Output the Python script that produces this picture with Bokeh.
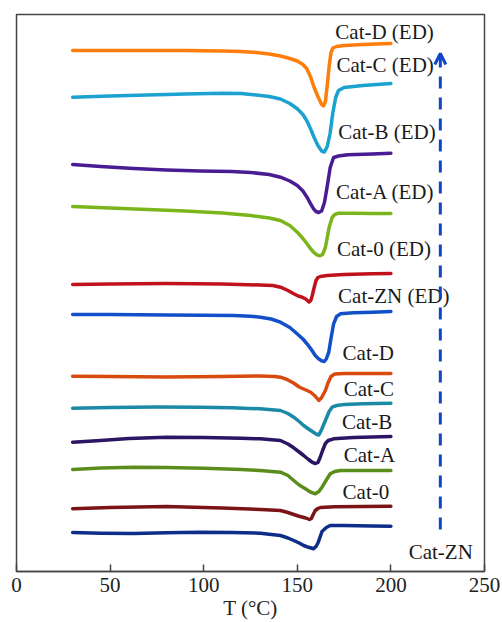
from bokeh.plotting import figure
from bokeh.models import Range1d, FixedTicker, Arrow, OpenHead, ColumnDataSource
from bokeh.core.properties import value
from bokeh.embed import file_html
from bokeh.resources import INLINE

# ---------------- data (T in °C, heat flow in offset arbitrary units) ----------------
t_d_ed = [30, 50, 70, 90, 110, 120, 128, 135, 141, 146, 150, 153, 155, 157, 159, 161, 163, 164, 165, 166, 167, 168, 169, 171, 175, 185, 200]
h_d_ed = [521, 521, 521, 521, 520.5, 520, 519, 517.5, 515.5, 513, 510.5, 507, 503, 495, 484, 475, 467, 465.5, 470, 486, 505, 519, 523.5, 525, 526, 527, 528]

t_c_ed = [30, 50, 70, 90, 110, 120, 128, 135, 141, 146, 150, 153, 155, 157, 159, 161, 163, 164.5, 166, 167.5, 169, 170.5, 172, 175, 185, 200]
h_c_ed = [474.3, 475.5, 476.5, 477.5, 478.2, 478, 476.5, 475, 472.5, 468, 462.7, 457, 451, 443, 434, 426, 420.5, 419.5, 425, 438, 459, 474, 481, 484, 486, 488]

t_b_ed = [30, 45, 62.6, 80, 98, 115, 125, 135, 141, 146, 150, 153, 155.2, 157, 158.7, 160, 161.4, 163, 164.5, 165.9, 167.6, 169.4, 172, 177, 190, 200]
h_b_ed = [407, 405, 403, 401.5, 400.5, 400, 399, 397, 394.3, 390.5, 386, 380.5, 374.3, 368, 362.7, 360, 359, 360.5, 369, 384.3, 404.3, 414, 415.5, 416.7, 417.5, 418.3]

t_a_ed = [30, 50, 70, 90, 110, 125, 135, 141, 146, 150, 153, 155.2, 157, 158.7, 160.5, 162, 163.5, 165, 165.9, 167, 168.6, 170, 172, 180, 190, 200]
h_a_ed = [365, 363.5, 362, 360.5, 358.5, 356, 353.5, 351, 346, 339.3, 333, 327.7, 323, 319.3, 316.7, 315.7, 317, 324, 333, 344, 354, 357, 358.3, 358.3, 358, 358]

t_0_ed = [30, 50, 80, 110, 130, 137, 141, 145, 148.1, 150.5, 152.5, 154.5, 156.3, 157.2, 158, 159, 160, 161, 162.3, 166, 175, 190, 200]
h_0_ed = [287, 287.5, 288, 287.5, 286.5, 286, 284.3, 281, 277.7, 275.5, 274.3, 272.5, 269.5, 271, 276, 284, 291, 294, 295, 296, 297, 297.7, 298]

t_zn_ed = [30, 50, 80, 100, 116, 125, 130.3, 136, 141, 146, 149.9, 153, 155.2, 157.5, 159.6, 161.5, 163, 164.4, 165.5, 166.8, 168, 169.4, 171, 173, 180, 190, 200]
h_zn_ed = [257, 257, 256.5, 256.2, 256, 255.2, 254.3, 252.5, 249.3, 244, 237.7, 232.5, 227.7, 222, 216, 212.5, 210.7, 210, 212.5, 219.3, 233, 247.7, 255, 257.7, 258.7, 259.3, 260]

t_d = [30, 50, 80, 110, 130, 138, 141, 144.5, 148, 151, 154, 157, 159.5, 161.5, 163, 165, 166.5, 168, 170, 175, 190, 200]
h_d = [195.3, 195, 194.5, 195, 195.5, 195, 194.3, 192, 188.5, 184.5, 182, 179.5, 175.5, 171, 174, 181, 189, 195, 197.5, 198, 198, 198]

t_c = [30, 50, 75, 98, 115, 130, 141, 145, 148.1, 151, 153.4, 156, 158, 160, 161.5, 163, 165, 167, 168.6, 171, 175, 185, 200]
h_c = [163.3, 164, 164.5, 164.3, 163.7, 162.7, 161, 158, 154.3, 150, 146, 142.5, 140, 137.5, 136.5, 142, 151, 160, 164.3, 166, 167, 167.7, 168.3]

t_b = [30, 45, 60, 80, 100, 120, 130.3, 141, 145, 148.1, 151, 153.4, 156, 158.2, 159.8, 161, 162.2, 163.5, 165, 166.5, 169.4, 180, 200]
h_b = [129.3, 131, 133, 134.3, 134, 133.2, 132.7, 131, 127.5, 123.7, 119.5, 116, 112, 109, 108, 109, 114, 121, 128, 131, 132.7, 134, 135]

t_a = [30, 45, 62.6, 80, 100, 120, 130.3, 141, 145, 148.1, 151, 154.3, 157, 159.6, 161.5, 163.2, 165.5, 167.6, 170, 173, 185, 200]
h_a = [102, 103.5, 104.3, 104, 103.2, 102, 101, 99.3, 96, 91, 86.5, 82.7, 79.5, 77.7, 80, 84.3, 91.5, 97.7, 100, 101, 101, 101]

t_0 = [30, 50, 80, 110, 130.3, 141, 145, 148.1, 150.5, 152.5, 154.5, 156.5, 157.5, 158.5, 159.6, 161, 162.3, 170, 185, 200]
h_0 = [62.7, 64, 65, 63.5, 62, 61, 59, 57, 55.5, 54.5, 53.5, 52, 53, 57, 61, 63, 64, 64.7, 65, 65.3]

t_zn = [30, 45, 62.6, 80, 98, 115, 130.3, 141, 145, 148.1, 151, 153.4, 156, 158.7, 160, 161.2, 163.2, 165.5, 167.6, 175, 190, 200]
h_zn = [39, 38.3, 38, 38.7, 39.3, 39, 38.3, 36, 33.5, 31, 28.5, 26, 24.2, 22.7, 25, 29.3, 40, 44, 46, 46, 45.5, 45.3]

series_names = ["Cat-D (ED)", "Cat-C (ED)", "Cat-B (ED)", "Cat-A (ED)", "Cat-0 (ED)", "Cat-ZN (ED)",
                "Cat-D", "Cat-C", "Cat-B", "Cat-A", "Cat-0", "Cat-ZN"]
x_ticks = [0, 50, 100, 150, 200, 250]
x_title = "T (°C)"

temps = [t_d_ed, t_c_ed, t_b_ed, t_a_ed, t_0_ed, t_zn_ed, t_d, t_c, t_b, t_a, t_0, t_zn]
flows = [h_d_ed, h_c_ed, h_b_ed, h_a_ed, h_0_ed, h_zn_ed, h_d, h_c, h_b, h_a, h_0, h_zn]

# ---------------- styling / layout ----------------
colors = ["#ff7d0a", "#1ba2d0", "#4a1c94", "#7ab51c", "#c0121a", "#1150c8",
          "#d84a0e", "#1c8aa6", "#2c1562", "#5b8d1c", "#7a1416", "#0d2d88"]
label_x = [170.3, 170.9, 171.9, 170.7, 171.2, 171.8, 174.2, 174.8, 173.9, 174.8, 174.2, 209.5]
label_y = [540, 506.3, 439.7, 379.7, 322.3, 275.7, 219, 182.3, 149.7, 116.3, 79.7, 19.7]

FONT = "Liberation Serif"

p = figure(width=502, height=622, output_backend="svg", toolbar_location=None,
           x_range=Range1d(0, 250), y_range=Range1d(0, 557),
           y_axis_location=None, min_border_left=16, min_border_right=18,
           min_border_top=14, min_border_bottom=51)
p.xgrid.visible = False
p.ygrid.visible = False
p.outline_line_color = "#444444"
p.outline_line_width = 1.5
p.background_fill_color = "white"
p.border_fill_color = "white"

ax = p.xaxis[0]
ax.ticker = FixedTicker(ticks=x_ticks)
ax.axis_line_color = "#444444"
ax.axis_line_width = 1.5
ax.major_tick_in = 7
ax.major_tick_out = 0
ax.major_tick_line_color = "#444444"
ax.major_tick_line_width = 1.5
ax.minor_tick_line_color = None
ax.major_label_text_font = FONT
ax.major_label_text_font_size = "21px"
ax.major_label_text_color = "#222222"
ax.major_label_standoff = 6
ax.axis_label = x_title
ax.axis_label_text_font = FONT
ax.axis_label_text_font_size = "21px"
ax.axis_label_text_font_style = "normal"
ax.axis_label_text_color = "#222222"
ax.axis_label_standoff = 1

for t, h, c in zip(temps, flows, colors):
    p.line(t, h, line_color=c, line_width=3.5, line_cap="round", line_join="round")

src = ColumnDataSource(dict(x=label_x, y=label_y, text=series_names))
p.text(x="x", y="y", text="text", source=src, text_font=value(FONT),
       text_font_size="21px", text_color="#1a1a1a", text_align="left",
       text_baseline="alphabetic")

arrow = Arrow(end=OpenHead(size=11, line_color="#0f45c8", line_width=3),
              x_start=226.4, y_start=42, x_end=226.4, y_end=518,
              line_color="#0f45c8", line_width=3, line_dash="12 9")
p.add_layout(arrow)

open("out.html", "w").write(file_html(p, INLINE))
